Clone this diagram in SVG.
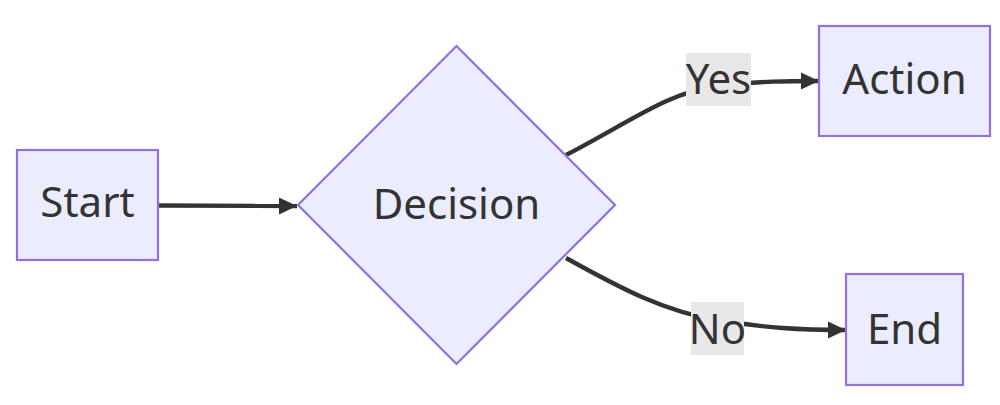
<svg xmlns="http://www.w3.org/2000/svg" width="1000" height="405" viewBox="0 0 1000 405">
<style>
.node{fill:#ECECFF;stroke:#9370DB;stroke-width:2.2}
.lbl{font-family:"Noto Sans","Open Sans","Liberation Sans",sans-serif;font-size:42px;fill:#333333;text-anchor:middle}
.edge{fill:none;stroke:#333333;stroke-width:4.4}
.ebg{fill:#E8E8E8}
</style>
<defs>
<marker id="arrow" markerUnits="userSpaceOnUse" markerWidth="18" markerHeight="20" viewBox="0 0 18 20" refX="18" refY="10" orient="auto">
<path d="M0,1.5 L18,10 L0,18.5 z" fill="#333333"/>
</marker>
</defs>
<g id="connectors">
<path class="edge" d="M158,205.5 L297,206" marker-end="url(#arrow)"/>
<path class="edge" d="M566,155 C630,122 668,92 718,86 C760,81 790,81 819,81" marker-end="url(#arrow)"/>
<path class="edge" d="M566,258 C620,288 665,312 718,320 C765,328 800,330 846,330" marker-end="url(#arrow)"/>
<g id="label-yes"><rect class="ebg" x="686" y="53" width="65" height="53"/><text class="lbl" x="718.5" y="94">Yes</text></g>
<g id="label-no"><rect class="ebg" x="691" y="302" width="53" height="53"/><text class="lbl" x="717.5" y="344">No</text></g>
</g>
<g id="start"><rect class="node" x="17" y="150" width="141" height="110"/><text class="lbl" x="87.5" y="217">Start</text></g>
<g id="decision"><polygon class="node" points="456.5,46 615,205 456.5,364 298,205"/><text class="lbl" x="456.5" y="219">Decision</text></g>
<g id="action"><rect class="node" x="819" y="26" width="171" height="110"/><text class="lbl" x="904.5" y="94">Action</text></g>
<g id="end"><rect class="node" x="846" y="274" width="117" height="111"/><text class="lbl" x="904.5" y="344">End</text></g>
</svg>
